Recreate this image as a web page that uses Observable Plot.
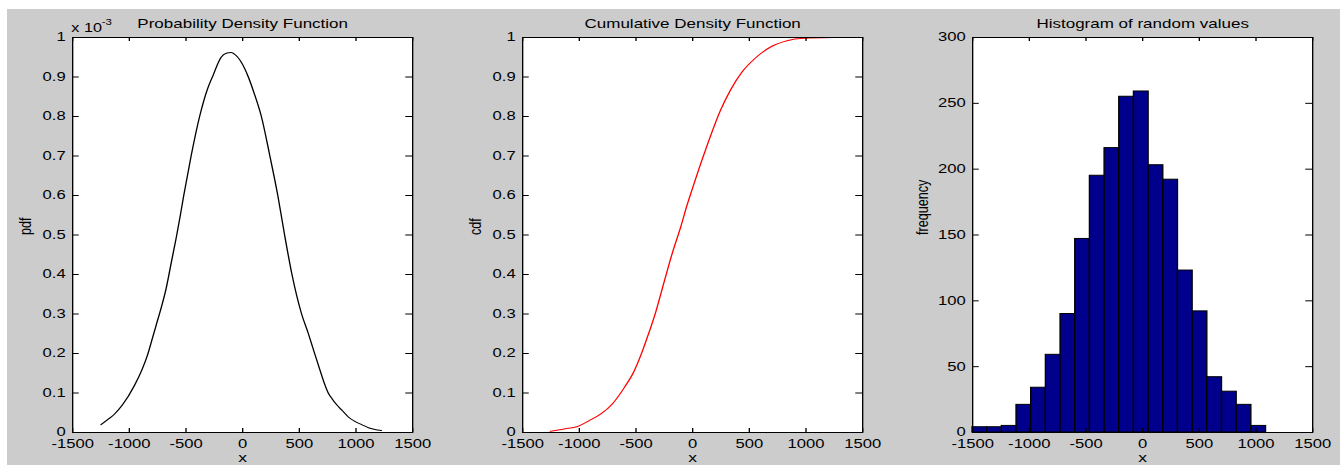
<!DOCTYPE html>
<html><head><meta charset="utf-8">
<script src="https://cdn.jsdelivr.net/npm/d3@7"></script>
<script src="https://cdn.jsdelivr.net/npm/@observablehq/plot@0.6"></script>
<style>
html,body{margin:0;padding:0;background:#fff;}
#wrap{position:relative;width:1340px;height:465px;background:#fff;overflow:hidden;}
#bg{position:absolute;left:7px;top:9px;right:0;bottom:0;background:#cccccc;}
</style></head>
<body><div id="wrap"><div id="bg"></div></div>
<script>
// ---- data ----
const xTicks = [-1500, -1000, -500, 0, 500, 1000, 1500];
const probTicks = [0, 0.1, 0.2, 0.3, 0.4, 0.5, 0.6, 0.7, 0.8, 0.9, 1];
const freqTicks = [0, 50, 100, 150, 200, 250, 300];

// pdf values in units of 1e-3
const pdfX = [-1250,-1180,-1130,-1060,-955,-890,-840,-800,-750,-710,-675,-630,-585,-550,-520,-455,-380,-310,-260,-190,-145,-100,-60,20,50,100,165,240,310,370,435,520,580,635,680,720,755,790,830,880,930,990,1050,1110,1225];
const pdfY = [0.02,0.035,0.047,0.07,0.119,0.158,0.196,0.235,0.285,0.325,0.365,0.43,0.495,0.55,0.6,0.7,0.8,0.87,0.905,0.95,0.96,0.962,0.955,0.92,0.9,0.86,0.8,0.7,0.6,0.5,0.4,0.3,0.25,0.2,0.16,0.125,0.1,0.085,0.07,0.055,0.04,0.028,0.02,0.012,0.005];

const cdfX = [-1256,-1133,-1016,-913,-810,-707,-605,-517,-458,-399,-326,-253,-179,-106,-47,12,70,144,246,334,437,554,687,833,980,1230];
const cdfY = [0.003,0.009,0.015,0.03,0.047,0.073,0.113,0.155,0.195,0.242,0.305,0.38,0.455,0.52,0.578,0.63,0.68,0.74,0.816,0.867,0.913,0.948,0.976,0.992,0.998,1.0];

const binEdges = [-1500,-1370.5,-1241,-1111.5,-982,-852.5,-723,-593.5,-464,-334.5,-205,-75.5,54,183.5,313,442.5,572,701.5,831,960.5,1090];
const counts = [4,4,5,21,34,59,90,147,195,216,255,259,203,192,123,92,42,31,21,5];

const titles = ["Probability Density Function", "Cumulative Density Function", "Histogram of random values"];
const yLabels = ["pdf", "cdf", "frequency"];
const xLabel = "x";

// ---- layout ----
const S = 1.35;            // horizontal stretch of the original figure
const W_ACT = 440, H = 465;
const W = W_ACT / S;
const mL = 72 / S, frameW = 340 / S, mR = W - mL - frameW, mT = 37, mB = 33;
const frameH = H - mT - mB;
const FONT = "'Liberation Sans', Arial, Helvetica, sans-serif";

function panel(left, {marks, yDomain, yTicks, title, ylabel, ylabelDx, extra = []}) {
  const svg = Plot.plot({
    width: W, height: H,
    marginLeft: mL, marginRight: mR, marginTop: mT, marginBottom: mB,
    x: {domain: [-1500, 1500]},
    y: {domain: yDomain},
    style: {fontFamily: FONT, fontSize: "12px", color: "#000", background: "transparent", overflow: "visible"},
    marks: [
      Plot.frame({fill: "white", stroke: "none"}),
      ...marks,
      Plot.tickX(xTicks, {x: d => d, stroke: "black", insetTop: frameH - 4}),
      Plot.tickX(xTicks, {x: d => d, stroke: "black", insetBottom: frameH - 4}),
      Plot.tickY(yTicks, {y: d => d, stroke: "black", insetRight: frameW - 5}),
      Plot.tickY(yTicks, {y: d => d, stroke: "black", insetLeft: frameW - 5}),
      Plot.frame({stroke: "black"}),
      Plot.axisX({ticks: xTicks, tickSize: 0, tickPadding: 7, tickFormat: d => String(d), label: null, fontSize: 12.3}),
      Plot.axisY({ticks: yTicks, tickSize: 0, tickPadding: 5.2, tickFormat: d => String(d), label: null, fontSize: 12.3}),
      Plot.text([title], {text: d => d, frameAnchor: "top", lineAnchor: "bottom", dy: -10, fontSize: 12.6}),
      Plot.text([xLabel], {text: d => d, frameAnchor: "bottom", dy: 29, fontSize: 13}),
      Plot.text([ylabel], {text: d => d, frameAnchor: "left", rotate: -90, dx: ylabelDx, fontSize: 12.6}),
      ...extra
    ]
  });
  svg.setAttribute("width", W_ACT);
  svg.setAttribute("height", H);
  svg.setAttribute("preserveAspectRatio", "none");
  Object.assign(svg.style, {position: "absolute", left: left + "px", top: "0px", width: W_ACT + "px", height: H + "px", maxWidth: "none", background: "transparent", overflow: "visible"});
  document.getElementById("wrap").appendChild(svg);
}

const pdfData = pdfX.map((x, i) => ({x, y: pdfY[i]}));
const cdfData = cdfX.map((x, i) => ({x, y: cdfY[i]}));
const bins = counts.map((c, i) => ({x1: binEdges[i], x2: binEdges[i + 1], count: c}));

panel(0, {
  marks: [Plot.line(pdfData, {x: "x", y: "y", stroke: "black", strokeWidth: 1, curve: "monotone-x"})],
  yDomain: [0, 1], yTicks: probTicks, title: titles[0], ylabel: yLabels[0], ylabelDx: -34.8,
  extra: [
    Plot.text(["x 10"], {text: d => d, frameAnchor: "top-left", textAnchor: "start", lineAnchor: "bottom", dx: -1, dy: -6, fontSize: 12}),
    Plot.text(["-3"], {text: d => d, frameAnchor: "top-left", textAnchor: "start", lineAnchor: "bottom", dx: 21.5, dy: -12.5, fontSize: 8.5})
  ]
});
panel(450, {
  marks: [Plot.line(cdfData, {x: "x", y: "y", stroke: "#ff0000", strokeWidth: 1, curve: "monotone-x"})],
  yDomain: [0, 1], yTicks: probTicks, title: titles[1], ylabel: yLabels[1], ylabelDx: -34.8
});
panel(900, {
  marks: [Plot.rect(bins, {x1: "x1", x2: "x2", y1: () => 0, y2: "count", fill: "#00008c", stroke: "black", strokeWidth: 1})],
  yDomain: [0, 300], yTicks: freqTicks, title: titles[2], ylabel: yLabels[2], ylabelDx: -37.4
});
</script>
</body></html>
